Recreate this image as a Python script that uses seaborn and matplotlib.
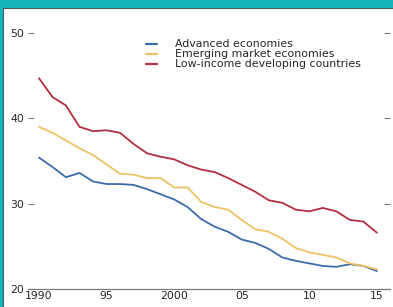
import matplotlib
matplotlib.use("Agg")
import matplotlib.pyplot as plt
from matplotlib.patches import Rectangle
import seaborn as sns
import pandas as pd

years = list(range(1990, 2016))
advanced = [35.4, 34.3, 33.1, 33.6, 32.6, 32.3, 32.3, 32.2, 31.7, 31.1,
            30.5, 29.6, 28.2, 27.3, 26.7, 25.8, 25.4, 24.7, 23.7, 23.3,
            23.0, 22.7, 22.6, 22.9, 22.7, 22.1]
emerging = [39.0, 38.3, 37.4, 36.5, 35.7, 34.6, 33.5, 33.4, 33.0, 33.0,
            31.9, 31.9, 30.2, 29.6, 29.3, 28.1, 27.0, 26.7, 25.9, 24.8,
            24.3, 24.0, 23.7, 23.0, 22.7, 22.3]
low_income = [44.7, 42.5, 41.5, 39.0, 38.5, 38.6, 38.3, 37.0, 35.9, 35.5,
              35.2, 34.5, 34.0, 33.7, 33.0, 32.2, 31.4, 30.4, 30.1, 29.3,
              29.1, 29.5, 29.1, 28.1, 27.9, 26.6]
series_names = ["Advanced economies", "Emerging market economies",
                "Low-income developing countries"]
series_colors = ["#3a6ca8", "#eec163", "#b12f40"]
xtick_years = [1990, 1995, 2000, 2005, 2010, 2015]
xtick_labels = ["1990", "95", "2000", "05", "10", "15"]
ytick_values = [20, 30, 40, 50]

df = pd.DataFrame({
    "year": years * 3,
    "value": advanced + emerging + low_income,
    "series": [n for n in series_names for _ in years],
})

sns.set_style("white")
plt.rcParams["font.family"] = ["DejaVu Sans"]

fig = plt.figure(figsize=(3.93, 3.07), dpi=100, facecolor="#13b5b9")
# white panel with thin dark edge on top/left
fig.patches.append(Rectangle((3 / 393, -0.01), 1, 1.01 - 8 / 307, transform=fig.transFigure,
                             facecolor="white", edgecolor="#4a5a5c", linewidth=0.8, zorder=-1))

ax = fig.add_axes([28 / 393, 18 / 307, 362 / 393, 256 / 307])
ax.set_facecolor("none")
sns.lineplot(data=df, x="year", y="value", hue="series", hue_order=series_names,
             palette=series_colors, linewidth=1.3, ax=ax)

ax.set_xlim(1989.19, 2015.97)
ax.set_ylim(20, 50)
ax.set_xticks(xtick_years)
ax.set_xticklabels(xtick_labels)
ax.set_yticks(ytick_values)
ax.set_xlabel("")
ax.set_ylabel("")

for s in ["top", "left", "right"]:
    ax.spines[s].set_visible(False)
ax.spines["bottom"].set_color("#7a7a7a")
ax.spines["bottom"].set_linewidth(0.9)

ax.tick_params(axis="x", direction="in", length=4, width=0.8, color="#7a7a7a",
               labelsize=7.8, labelcolor="#262626", pad=1.5)
ax.tick_params(axis="y", direction="in", length=4, width=0.8, color="#7a7a7a",
               labelsize=7.8, labelcolor="#262626", pad=3, right=True, left=True)

leg = ax.legend(loc="upper left", bbox_to_anchor=(0.326, 0.975), frameon=False,
                fontsize=7.9, handlelength=1.0, handletextpad=1.6,
                labelspacing=0.0, borderaxespad=0, borderpad=0)
for line in leg.get_lines():
    line.set_linewidth(1.6)
for t in leg.get_texts():
    t.set_color("#262626")

fig.savefig("out.png", dpi=100, facecolor=fig.get_facecolor())
